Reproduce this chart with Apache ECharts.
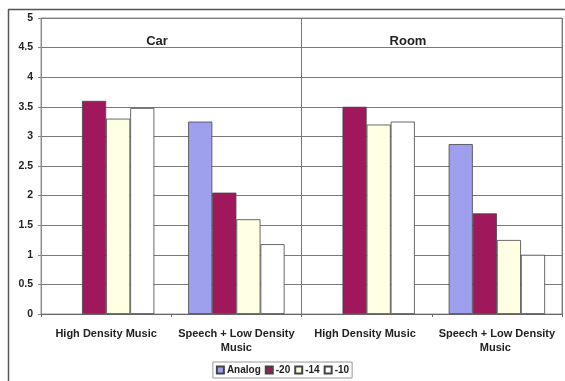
<!DOCTYPE html>
<html>
<head>
<meta charset="utf-8">
<script src="https://cdn.jsdelivr.net/npm/echarts@6/dist/echarts.min.js"></script>
<style>
  html, body { margin: 0; padding: 0; background: #fff; }
  #chart { width: 565px; height: 381px; }
</style>
</head>
<body>
<div id="chart"></div>
<script>
// Listening test scores by programme type, car vs. room environment
const categories = [
  'High Density Music',
  'Speech + Low Density\nMusic',
  'High Density Music ',
  'Speech + Low Density\nMusic '
];
const seriesNames = ['Analog', '-20', '-14', '-10'];
const analog = [null, 3.25, null, 2.87];
const db20 = [3.6, 2.05, 3.5, 1.7];
const db14 = [3.3, 1.6, 3.2, 1.25];
const db10 = [3.48, 1.18, 3.25, 1.0];
const yTicks = [0, 0.5, 1, 1.5, 2, 2.5, 3, 3.5, 4, 4.5, 5];
const panelTitles = ['Car', 'Room'];

const font = 'Liberation Sans, Arial, sans-serif';
const colors = ['#9ea0ee', '#a0185c', '#ffffe4', '#ffffff'];
const values = [analog, db20, db14, db10];

const chart = echarts.init(document.getElementById('chart'));
chart.setOption({
  animation: false,
  backgroundColor: '#ffffff',
  graphic: [
    { type: 'line', shape: { x1: 8, y1: 9.5, x2: 565, y2: 9.5 }, style: { stroke: '#555', lineWidth: 1.5 } },
    { type: 'line', shape: { x1: 8.5, y1: 9, x2: 8.5, y2: 381 }, style: { stroke: '#555', lineWidth: 1.5 } }
  ],
  title: [
    { text: panelTitles[0], left: 152, top: 30, textAlign: 'center',
      textStyle: { fontFamily: font, fontSize: 13, fontWeight: 'bold', color: '#222' } },
    { text: panelTitles[1], left: 403, top: 30, textAlign: 'center',
      textStyle: { fontFamily: font, fontSize: 13, fontWeight: 'bold', color: '#222' } }
  ],
  legend: {
    data: seriesNames,
    top: 362,
    left: 'center',
    padding: [3, 3, 3, 3],
    borderColor: '#999',
    borderWidth: 1,
    itemWidth: 7,
    itemHeight: 7,
    itemGap: 4,
    icon: 'rect',
    textStyle: { fontFamily: font, fontSize: 10, fontWeight: 'bold', color: '#222', padding: [0, 0, 0, -2] }
  },
  grid: {
    left: 41, right: 3, top: 18, bottom: 67,
    show: true, borderColor: '#999', borderWidth: 1
  },
  xAxis: [
    {
      type: 'category',
      data: categories,
      axisLine: { lineStyle: { color: '#666' } },
      axisTick: { show: true, length: 3, lineStyle: { color: '#666' } },
      axisLabel: {
        interval: 0, margin: 13, lineHeight: 14,
        fontFamily: font, fontSize: 11, fontWeight: 'bold', color: '#222'
      },
      splitLine: { show: false }
    },
    {
      // hidden helper axis: draws the divider between the two panels
      type: 'value',
      position: 'bottom',
      min: 0, max: 4, interval: 2,
      axisLine: { show: false },
      axisTick: { show: false },
      axisLabel: { show: false },
      splitLine: { show: true, lineStyle: { color: '#777', width: 1 } }
    }
  ],
  yAxis: {
    type: 'value',
    min: yTicks[0],
    max: yTicks[yTicks.length - 1],
    interval: 0.5,
    axisLine: { show: true, lineStyle: { color: '#888' } },
    axisTick: { show: true, length: 3, lineStyle: { color: '#888' } },
    axisLabel: {
      margin: 8,
      fontFamily: font, fontSize: 10.5, fontWeight: 'bold', color: '#222',
      formatter: function (v) { return String(v); }
    },
    splitLine: { lineStyle: { color: '#7a7a7a', width: 1 } }
  },
  series: seriesNames.map(function (name, i) {
    return {
      name: name,
      type: 'bar',
      xAxisIndex: 0,
      data: values[i],
      barGap: '0%',
      barCategoryGap: '26%',
      itemStyle: { color: colors[i], borderColor: '#444', borderWidth: 0.8 }
    };
  })
});
</script>
</body>
</html>
